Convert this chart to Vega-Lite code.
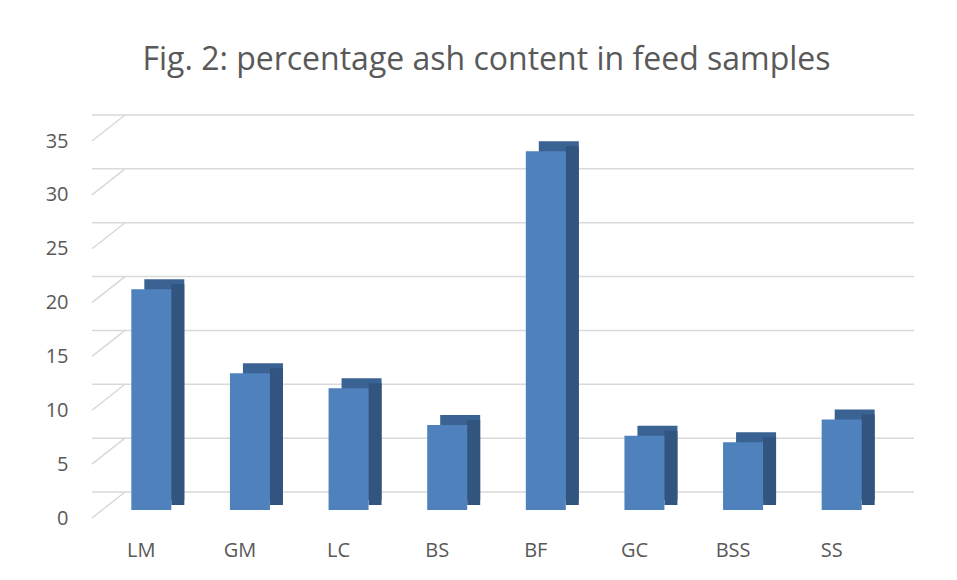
{
  "$schema": "https://vega.github.io/schema/vega-lite/v6.json",
  "autosize": {"type": "none"},
  "width": 789,
  "height": 377,
  "padding": {"left": 92, "top": 141, "right": 76, "bottom": 62},
  "background": "white",
  "config": {
    "view": {"stroke": null},
    "font": "Open Sans"
  },
  "title": {
    "text": "Fig. 2: percentage ash content in feed samples",
    "font": "Open Sans",
    "fontSize": 32,
    "fontWeight": "normal",
    "color": "#595959",
    "anchor": "middle",
    "offset": 37
  },
  "datasets": {
    "feed": [
      {"sample": "LM", "ash": 20.5},
      {"sample": "GM", "ash": 12.7},
      {"sample": "LC", "ash": 11.3},
      {"sample": "BS", "ash": 7.9},
      {"sample": "BF", "ash": 33.3},
      {"sample": "GC", "ash": 6.9},
      {"sample": "BSS", "ash": 6.3},
      {"sample": "SS", "ash": 8.4}
    ],
    "grid": [
      {"v": 0}, {"v": 5}, {"v": 10}, {"v": 15}, {"v": 20}, {"v": 25}, {"v": 30}, {"v": 35}
    ]
  },
  "layer": [
    {
      "data": {"name": "grid"},
      "mark": {"type": "rule", "color": "#d9d9d9", "strokeWidth": 1.5, "xOffset": 33, "x2Offset": 33, "yOffset": -26},
      "encoding": {
        "y": {
          "field": "v",
          "type": "quantitative",
          "scale": {"domain": [0, 35], "nice": false},
          "axis": {
            "title": null,
            "values": [0, 5, 10, 15, 20, 25, 30, 35],
            "labelFont": "Open Sans",
            "labelFontSize": 20,
            "labelColor": "#595959",
            "labelPadding": 24,
            "ticks": false,
            "domain": false,
            "grid": false
          }
        }
      }
    },
    {
      "data": {"name": "grid"},
      "mark": {"type": "rule", "color": "#d9d9d9", "strokeWidth": 1.5, "y2Offset": -26},
      "encoding": {
        "x": {"value": 0},
        "x2": {"value": 33},
        "y": {"field": "v", "type": "quantitative"},
        "y2": {"field": "v"}
      }
    },
    {
      "data": {"name": "feed"},
      "mark": {"type": "bar", "color": "#3a6293", "width": 40, "xOffset": 23, "x2Offset": 23, "yOffset": -18, "y2Offset": -18},
      "encoding": {
        "x": {
          "field": "sample",
          "type": "nominal",
          "sort": null,
          "scale": {"paddingInner": 0, "paddingOuter": 0},
          "axis": {
            "title": null,
            "labelAngle": 0,
            "labelAlign": "center",
            "labelFont": "Open Sans",
            "labelFontSize": 20,
            "labelColor": "#595959",
            "labelPadding": 22,
            "ticks": false,
            "domain": false,
            "grid": false
          }
        },
        "y": {"field": "ash", "type": "quantitative"}
      }
    },
    {
      "data": {"name": "feed"},
      "mark": {"type": "bar", "color": "#32557f", "width": 13, "xOffset": 36.5, "x2Offset": 36.5, "yOffset": -13, "y2Offset": -13},
      "encoding": {
        "x": {"field": "sample", "type": "nominal", "sort": null},
        "y": {"field": "ash", "type": "quantitative"}
      }
    },
    {
      "data": {"name": "feed"},
      "mark": {"type": "bar", "color": "#4f81bd", "width": 40, "xOffset": 10, "x2Offset": 10, "yOffset": -8, "y2Offset": -8},
      "encoding": {
        "x": {"field": "sample", "type": "nominal", "sort": null},
        "y": {"field": "ash", "type": "quantitative"}
      }
    }
  ]
}
